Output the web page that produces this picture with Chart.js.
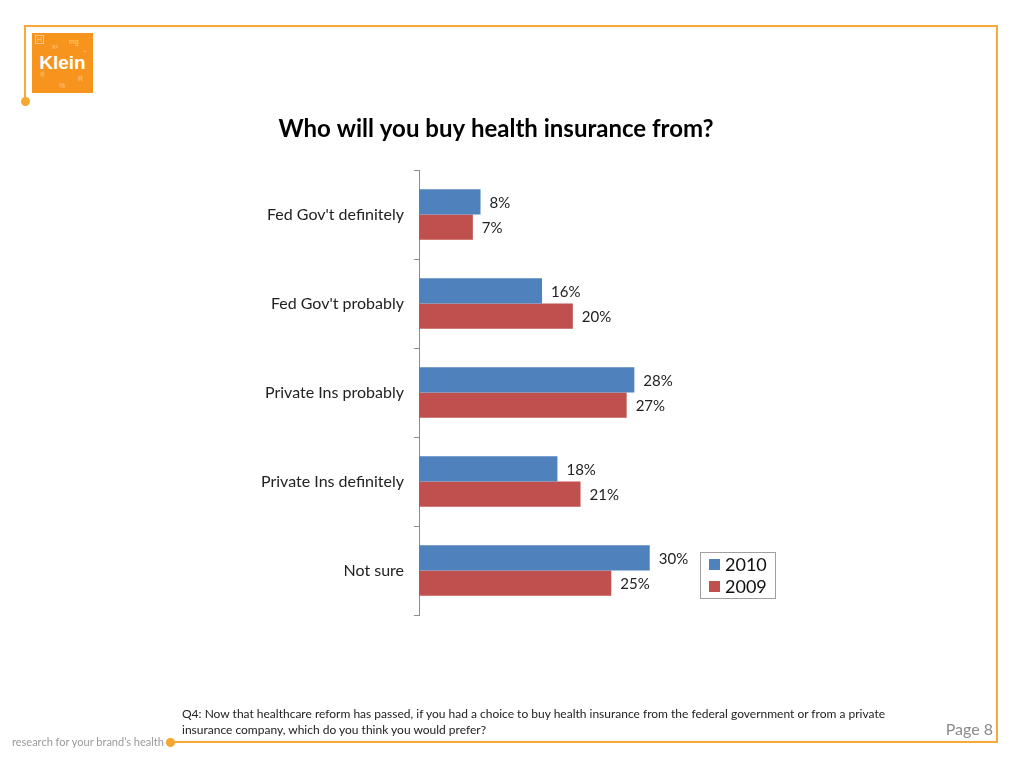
<!DOCTYPE html>
<html>
<head>
<meta charset="utf-8">
<script src="https://cdn.jsdelivr.net/npm/chart.js@4/dist/chart.umd.min.js"></script>
<style>
  html, body { margin: 0; padding: 0; background: #fff; }
  #wrap { position: relative; width: 1024px; height: 768px; overflow: hidden; font-family: Lato, "Open Sans", sans-serif; }
  #chart { position: absolute; left: 0; top: 0; }
  .ln { position: absolute; background: #F8A93A; }
  .dot { position: absolute; width: 9px; height: 9px; border-radius: 50%; background: #F7A731; }
  #logo { position: absolute; left: 32px; top: 33px; width: 61px; height: 60px; background: #F7941D; color: #fff; }
  #logo .k { position: absolute; left: 0; width: 61px; top: 19px; text-align: center; font: bold 19px "Liberation Sans", Arial, sans-serif; }
  #logo .s { position: absolute; font: 7px "Liberation Sans", Arial, sans-serif; color: #FCC98A; }
  .txt { position: absolute; white-space: nowrap; }
</style>
</head>
<body>
<div id="wrap">
  <canvas id="chart" width="1024" height="768"></canvas>

  <div class="ln" style="left:25px; top:25px; width:973px; height:2px;"></div>
  <div class="ln" style="left:996px; top:25px; width:2px; height:718px;"></div>
  <div class="ln" style="left:170px; top:741px; width:828px; height:2px;"></div>
  <div class="ln" style="left:24px; top:25px; width:2px; height:76px;"></div>
  <div class="dot" style="left:21px; top:97px;"></div>
  <div class="dot" style="left:166px; top:738px;"></div>

  <div id="logo">
    <div class="s" style="left:3px; top:2px; border:1px solid #FCC98A; width:7px; height:7px; line-height:7px; text-align:center;">H</div>
    <div class="s" style="left:20px; top:10px;">x²</div>
    <div class="s" style="left:37px; top:5px;">mg</div>
    <div class="s" style="left:51px; top:15px;">~</div>
    <div class="k">Klein</div>
    <div class="s" style="left:8px; top:38px;">®</div>
    <div class="s" style="left:46px; top:42px;">R</div>
    <div class="s" style="left:27px; top:49px;">%</div>
  </div>

  <div class="txt" style="left:182px; top:706px; font-size:12px; line-height:16px; color:#222;">
    Q4: Now that healthcare reform has passed, if you had a choice to buy health insurance from the federal government or from a private<br>
    insurance company, which do you think you would prefer?
  </div>
  <div class="txt" style="left:12px; top:735px; font-size:11px; color:#9a9a9a;">research for your brand’s health</div>
  <div class="txt" style="right:31px; top:719px; font-size:16px; color:#8a8a8a;">Page 8</div>
</div>

<script>
const categories = ["Fed Gov't definitely", "Fed Gov't probably", "Private Ins probably", "Private Ins definitely", "Not sure"];
const series2010 = [8, 16, 28, 18, 30];
const series2009 = [7, 20, 27, 21, 25];
const seriesLabels = ["2010", "2009"];
const seriesColors = ["#4F81BD", "#C0504D"];

const valueLabels = {
  id: 'valueLabels',
  afterDatasetsDraw(chart) {
    const ctx = chart.ctx;
    ctx.save();
    ctx.font = '15px Lato, sans-serif';
    ctx.fillStyle = '#222';
    ctx.textBaseline = 'middle';
    ctx.textAlign = 'left';
    chart.data.datasets.forEach((ds, i) => {
      chart.getDatasetMeta(i).data.forEach((bar, j) => {
        ctx.fillText(ds.data[j] + '%', bar.x + 9, bar.y + 1);
      });
    });
    ctx.restore();
  }
};

const boxLegend = {
  id: 'boxLegend',
  afterDraw(chart) {
    const ctx = chart.ctx;
    const x = 700, y = 552, w = 75, h = 46;
    ctx.save();
    ctx.fillStyle = '#fff';
    ctx.fillRect(x, y, w, h);
    ctx.strokeStyle = '#a0a0a0';
    ctx.lineWidth = 1;
    ctx.strokeRect(x + 0.5, y + 0.5, w, h);
    ctx.font = '18px Lato, sans-serif';
    ctx.textBaseline = 'middle';
    chart.data.datasets.forEach((ds, i) => {
      const cy = y + 12 + i * 22;
      ctx.fillStyle = ds.backgroundColor;
      ctx.fillRect(x + 9, cy - 5, 11, 11);
      ctx.fillStyle = '#111';
      ctx.fillText(ds.label, x + 25, cy + 1);
    });
    ctx.restore();
  }
};

new Chart(document.getElementById('chart'), {
  type: 'bar',
  data: {
    labels: categories,
    datasets: [
      { label: seriesLabels[0], data: series2010, backgroundColor: seriesColors[0] },
      { label: seriesLabels[1], data: series2009, backgroundColor: seriesColors[1] }
    ]
  },
  options: {
    indexAxis: 'y',
    responsive: false,
    animation: false,
    categoryPercentage: 0.57,
    barPercentage: 1,
    layout: { padding: { left: 0, right: 32, top: 115, bottom: 153 } },
    plugins: {
      legend: { display: false },
      tooltip: { enabled: false },
      title: {
        display: true,
        text: 'Who will you buy health insurance from?',
        color: '#000',
        font: { family: 'Lato, sans-serif', size: 24, weight: 'bold' },
        padding: { top: 0, bottom: 26.2 }
      }
    },
    scales: {
      x: { display: false, min: 0, max: 74.5 },
      y: {
        afterFit(scale) { scale.width = 419; },
        border: { color: '#8c8c8c', width: 1 },
        grid: { offset: true, drawOnChartArea: false, tickLength: 5, color: '#8c8c8c' },
        ticks: { padding: 10, color: '#222', font: { family: 'Lato, sans-serif', size: 16 } }
      }
    }
  },
  plugins: [valueLabels, boxLegend]
});
</script>
</body>
</html>
